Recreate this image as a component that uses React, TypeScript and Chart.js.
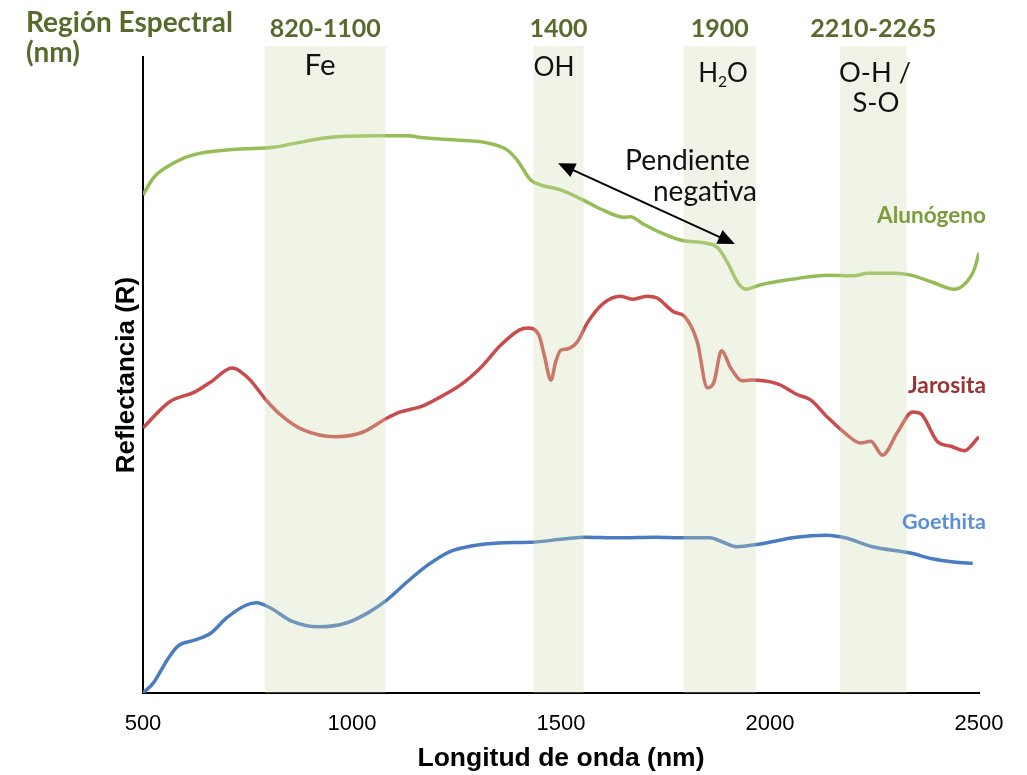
import React, { useEffect, useRef } from "react";
import { Chart, registerables } from "chart.js";

Chart.register(...registerables);

// ---- Data (wavelength in nm, relative reflectance) ----
const alunogenoNm = [500, 525, 557, 620, 724, 812, 868, 940, 1052, 1132, 1171, 1259, 1323, 1371, 1395, 1427, 1451, 1499, 1547, 1595, 1650, 1666, 1698, 1738, 1793, 1841, 1875, 1899, 1923, 1942, 1978, 2057, 2138, 2201, 2234, 2296, 2337, 2392, 2440, 2464, 2488, 2500];
const alunogenoR = [78.3, 81.0, 82.7, 84.6, 85.5, 85.8, 86.5, 87.3, 87.6, 87.6, 87.3, 86.9, 86.5, 85.4, 83.8, 80.7, 79.9, 79.1, 77.7, 76.1, 74.8, 74.9, 73.7, 72.4, 71.1, 70.8, 70.0, 67.6, 64.5, 63.5, 64.2, 65.1, 65.7, 65.6, 66.0, 66.0, 65.7, 64.5, 63.5, 64.2, 66.5, 69.2];

const jarositaNm = [500, 564, 623, 662, 713, 752, 798, 830, 882, 960, 1025, 1083, 1116, 1168, 1207, 1259, 1310, 1356, 1401, 1421, 1447, 1460, 1476, 1487, 1499, 1515, 1539, 1563, 1602, 1642, 1670, 1706, 1730, 1770, 1794, 1826, 1850, 1866, 1884, 1906, 1934, 1954, 2018, 2066, 2097, 2137, 2177, 2217, 2241, 2269, 2305, 2341, 2361, 2401, 2433, 2465, 2500];
const jarositaR = [41.7, 45.8, 47.3, 48.9, 51.1, 49.5, 45.8, 43.7, 41.4, 40.3, 41.0, 43.2, 44.2, 45.1, 46.4, 48.4, 51.3, 54.7, 57.1, 57.4, 56.3, 53.1, 49.2, 52.0, 53.9, 54.1, 55.2, 58.2, 61.3, 62.4, 61.9, 62.4, 62.1, 59.9, 59.3, 55.2, 48.0, 48.9, 53.8, 51.1, 49.1, 49.2, 48.6, 46.9, 46.1, 43.4, 41.0, 39.3, 39.6, 37.4, 41.0, 44.2, 43.9, 39.5, 38.8, 38.1, 40.3];

const goethitaNm = [500, 525, 558, 584, 623, 662, 700, 746, 772, 804, 856, 921, 986, 1038, 1083, 1129, 1181, 1233, 1285, 1350, 1427, 1505, 1557, 1635, 1726, 1791, 1856, 1888, 1921, 1973, 2063, 2135, 2180, 2245, 2336, 2388, 2440, 2485];
const goethitaR = [0, 1.6, 5.2, 7.4, 8.3, 9.4, 11.8, 13.8, 14.2, 13.4, 11.3, 10.4, 11.0, 12.6, 14.6, 17.3, 20.1, 22.2, 23.1, 23.6, 23.7, 24.2, 24.5, 24.4, 24.5, 24.4, 24.4, 23.7, 23.0, 23.4, 24.5, 24.8, 24.4, 23.0, 22.0, 21.1, 20.6, 20.4];

const xTicks = [500, 1000, 1500, 2000, 2500];

// spectral regions (shaded bands)
const bandStart = [792, 1434, 1793, 2167];
const bandEnd = [1080, 1554, 1966, 2327];
const bandHeadings = ["820-1100", "1400", "1900", "2210-2265"];

const arrowFrom = [1493, 83.3];
const arrowTo = [1916, 70.6];

const OLIVE = "#586b2d";
const TXT_FONT = "Lato, 'Open Sans', sans-serif";

function fitText(
  ctx: CanvasRenderingContext2D,
  text: string,
  x: number,
  y: number,
  width: number,
  weight: string,
  color: string,
  align: CanvasTextAlign = "left"
) {
  ctx.font = `${weight} 100px ${TXT_FONT}`;
  const w = ctx.measureText(text).width;
  const size = (100 * width) / w;
  ctx.font = `${weight} ${size}px ${TXT_FONT}`;
  ctx.fillStyle = color;
  ctx.textAlign = align;
  ctx.textBaseline = "alphabetic";
  ctx.fillText(text, x, y);
}

const annotationPlugin = {
  id: "annotations",
  afterDatasetsDraw(chart: any) {
    const { ctx, chartArea, scales } = chart;
    const xs = scales.x;
    ctx.save();
    ctx.fillStyle = "rgba(205,218,172,0.3)";
    for (let i = 0; i < bandStart.length; i++) {
      const x1 = xs.getPixelForValue(bandStart[i]);
      const x2 = xs.getPixelForValue(bandEnd[i]);
      ctx.fillRect(x1, chartArea.top - 11, x2 - x1, chartArea.bottom - chartArea.top + 11);
    }
    ctx.restore();
  },
  afterDraw(chart: any) {
    const { ctx, scales } = chart;
    const xs = scales.x;
    const ys = scales.y;
    ctx.save();

    // Heading
    fitText(ctx, "Región Espectral", 26, 32, 207, "bold", OLIVE);
    fitText(ctx, "(nm)", 26, 62, 54, "bold", OLIVE);

    const headingW = [111, 58, 58, 126];
    for (let i = 0; i < bandStart.length; i++) {
      const cx = (xs.getPixelForValue(bandStart[i]) + xs.getPixelForValue(bandEnd[i])) / 2;
      fitText(ctx, bandHeadings[i], cx, 37, headingW[i], "bold", OLIVE, "center");
    }

    // Band labels
    fitText(ctx, "Fe", 320, 75, 31, "normal", "#111", "center");
    fitText(ctx, "OH", 554, 76, 41, "normal", "#111", "center");
    // H2O with subscript
    {
      const s = 26;
      ctx.font = `normal ${s}px ${TXT_FONT}`;
      const wH = ctx.measureText("H").width;
      const wO = ctx.measureText("O").width;
      ctx.font = `normal ${s * 0.6}px ${TXT_FONT}`;
      const w2 = ctx.measureText("2").width;
      const start = 723 - (wH + w2 + wO) / 2;
      ctx.fillStyle = "#111";
      ctx.textAlign = "left";
      ctx.textBaseline = "alphabetic";
      ctx.font = `normal ${s}px ${TXT_FONT}`;
      ctx.fillText("H", start, 82);
      ctx.fillText("O", start + wH + w2, 82);
      ctx.font = `normal ${s * 0.6}px ${TXT_FONT}`;
      ctx.fillText("2", start + wH, 87);
    }
    fitText(ctx, "O-H /", 875, 82, 72, "normal", "#111", "center");
    fitText(ctx, "S-O", 876, 112, 47, "normal", "#111", "center");

    // Pendiente negativa
    fitText(ctx, "Pendiente", 625, 170, 125, "normal", "#111");
    fitText(ctx, "negativa", 653, 201, 104, "normal", "#111");

    // Double-headed arrow
    const ax1 = xs.getPixelForValue(arrowFrom[0]);
    const ay1 = ys.getPixelForValue(arrowFrom[1]);
    const ax2 = xs.getPixelForValue(arrowTo[0]);
    const ay2 = ys.getPixelForValue(arrowTo[1]);
    const ang = Math.atan2(ay2 - ay1, ax2 - ax1);
    const headLen = 17;
    const headW = 7.5;
    ctx.strokeStyle = "#000";
    ctx.fillStyle = "#000";
    ctx.lineWidth = 2;
    ctx.beginPath();
    ctx.moveTo(ax1 + Math.cos(ang) * headLen * 0.8, ay1 + Math.sin(ang) * headLen * 0.8);
    ctx.lineTo(ax2 - Math.cos(ang) * headLen * 0.8, ay2 - Math.sin(ang) * headLen * 0.8);
    ctx.stroke();
    const head = (px: number, py: number, dir: number) => {
      ctx.beginPath();
      ctx.moveTo(px, py);
      ctx.lineTo(
        px - Math.cos(dir) * headLen - Math.sin(dir) * headW,
        py - Math.sin(dir) * headLen + Math.cos(dir) * headW
      );
      ctx.lineTo(
        px - Math.cos(dir) * headLen + Math.sin(dir) * headW,
        py - Math.sin(dir) * headLen - Math.cos(dir) * headW
      );
      ctx.closePath();
      ctx.fill();
    };
    head(ax2, ay2, ang);
    head(ax1, ay1, ang + Math.PI);

    // Series labels
    fitText(ctx, "Alunógeno", 877, 223, 109, "bold", "#7b9c3a");
    fitText(ctx, "Jarosita", 908, 393, 78, "bold", "#9a3434");
    fitText(ctx, "Goethita", 902, 529, 84, "bold", "#5b8ed6");

    ctx.restore();
  },
};

const toPoints = (xs: number[], ys: number[]) => xs.map((x, i) => ({ x, y: ys[i] }));

const App = () => {
  const ref = useRef<HTMLCanvasElement | null>(null);

  useEffect(() => {
    if (!ref.current) return;
    Chart.defaults.font.family = "'Liberation Sans', Arial, sans-serif";
    const common = {
      pointRadius: 0,
      pointHoverRadius: 0,
      borderWidth: 3.5,
      fill: false,
      cubicInterpolationMode: "monotone" as const,
    };
    const chart = new Chart(ref.current, {
      type: "line",
      data: {
        datasets: [
          { label: "Alunógeno", data: toPoints(alunogenoNm, alunogenoR), borderColor: "#95bd55", ...common },
          { label: "Jarosita", data: toPoints(jarositaNm, jarositaR), borderColor: "#c94b4b", ...common },
          { label: "Goethita", data: toPoints(goethitaNm, goethitaR), borderColor: "#4a7cc2", ...common },
        ],
      },
      options: {
        animation: false,
        responsive: true,
        maintainAspectRatio: false,
        layout: { padding: { left: 0, right: 48, top: 57, bottom: 0 } },
        plugins: { legend: { display: false }, tooltip: { enabled: false } },
        events: [],
        scales: {
          x: {
            type: "linear",
            min: 500,
            max: 2500,
            afterBuildTicks: (s: any) => {
              s.ticks = xTicks.map((v) => ({ value: v }));
            },
            afterFit: (s: any) => {
              s.height = 82;
            },
            grid: { display: false, drawTicks: false },
            border: { display: true, color: "#000", width: 2 },
            ticks: {
              color: "#000",
              font: { size: 22 },
              padding: 18,
              maxRotation: 0,
              callback: (v: any) => String(v),
            },
            title: {
              display: true,
              text: "Longitud de onda (nm)",
              color: "#000",
              font: { size: 26.5, weight: "bold" },
              padding: { top: 0, bottom: 0 },
            },
          },
          y: {
            type: "linear",
            min: 0,
            max: 100,
            afterFit: (s: any) => {
              s.width = 143;
            },
            grid: { display: false, drawTicks: false },
            border: { display: true, color: "#000", width: 2 },
            ticks: { display: false },
            title: {
              display: true,
              text: "Reflectancia (R)",
              color: "#000",
              font: { size: 26, weight: "bold" },
              padding: { top: 111, bottom: 0 },
            },
          },
        },
      },
      plugins: [annotationPlugin],
    });
    return () => chart.destroy();
  }, []);

  return (
    <div style={{ position: "fixed", left: 0, top: 0, width: 1027, height: 775, background: "#fff" }}>
      <canvas ref={ref} />
    </div>
  );
};

export default App;
